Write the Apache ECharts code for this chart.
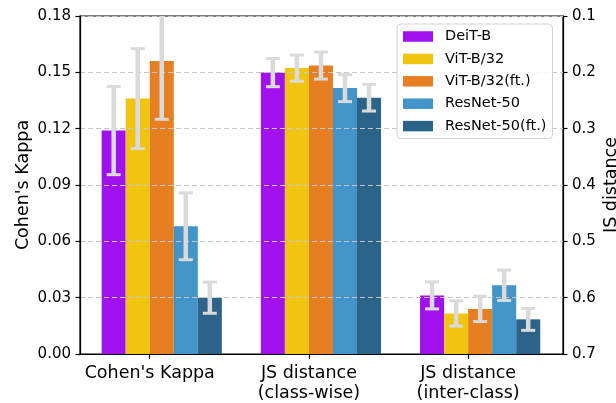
<!DOCTYPE html>
<html>
<head>
<meta charset="utf-8">
<script src="https://cdn.jsdelivr.net/npm/echarts@6/dist/echarts.min.js"></script>
<style>
  html, body { margin: 0; padding: 0; background: #fff; }
  #chart { width: 616px; height: 403px; }
</style>
</head>
<body>
<div id="chart"></div>
<script>
// Groups along the x axis and the five compared models
const categories = ["Cohen's Kappa", 'JS distance\n(class-wise)', 'JS distance\n(inter-class)'];
const models = ['DeiT-B', 'ViT-B/32', 'ViT-B/32(ft.)', 'ResNet-50', 'ResNet-50(ft.)'];

// Cohen's Kappa (left axis), mean and error
const kappa    = [0.119, 0.136, 0.156, 0.068, 0.030];
const kappaErr = [0.0235, 0.0266, 0.031, 0.0178, 0.0083];

// JS distance (right axis, inverted), mean and error
const jsClassWise    = [0.2005, 0.1925, 0.188, 0.228, 0.245];
const jsClassWiseErr = [0.025, 0.0233, 0.024, 0.024, 0.0237];
const jsInterClass    = [0.596, 0.628, 0.620, 0.578, 0.6385];
const jsInterClassErr = [0.024, 0.0224, 0.0225, 0.027, 0.0195];

// Axis ranges
const kappaAxis = { min: 0, max: 0.18, interval: 0.03 };
const jsAxis = { min: 0.1, max: 0.7, interval: 0.1 };

const colors = ['#a111ef', '#f1c40f', '#e67e22', '#4394c9', '#2b6389'];
const FONT = 'DejaVu Sans';
const BAR_W = 0.151;          // bar width in x-axis units
const ERR_COLOR = '#dadada';

function barSeries(i, yAxisIndex, points, base) {
  return {
    type: 'custom',
    name: models[i],
    xAxisIndex: 0,
    yAxisIndex: yAxisIndex,
    clip: true,
    z: 2,
    itemStyle: { color: colors[i] },
    encode: { x: 0, y: 1 },
    data: points,
    silent: true,
    renderItem: function (params, api) {
      const x = api.value(0), v = api.value(1);
      const a = api.coord([x + (i - 2) * BAR_W, v]);
      const b = api.coord([x + (i - 1) * BAR_W, base]);
      return {
        type: 'rect',
        shape: { x: a[0], y: Math.min(a[1], b[1]), width: b[0] - a[0], height: Math.abs(b[1] - a[1]) },
        style: { fill: colors[i] }
      };
    }
  };
}

function errSeries(i, yAxisIndex, points) {
  return {
    type: 'custom',
    name: 'err ' + models[i] + ' ' + yAxisIndex,
    xAxisIndex: 0,
    yAxisIndex: yAxisIndex,
    clip: true,
    z: 4,
    encode: { x: 0, y: 1 },
    data: points,
    silent: true,
    renderItem: function (params, api) {
      const x = api.value(0), v = api.value(1), e = api.value(2);
      const xc = x + (i - 1.5) * BAR_W;
      const hi = api.coord([xc, v + e]);
      const lo = api.coord([xc, v - e]);
      const cap = 7;
      return {
        type: 'group',
        children: [
          { type: 'line', shape: { x1: hi[0], y1: hi[1], x2: lo[0], y2: lo[1] },
            style: { stroke: ERR_COLOR, lineWidth: 4.5 } },
          { type: 'line', shape: { x1: hi[0] - cap, y1: hi[1], x2: hi[0] + cap, y2: hi[1] },
            style: { stroke: ERR_COLOR, lineWidth: 3 } },
          { type: 'line', shape: { x1: lo[0] - cap, y1: lo[1], x2: lo[0] + cap, y2: lo[1] },
            style: { stroke: ERR_COLOR, lineWidth: 3 } }
        ]
      };
    }
  };
}

const series = [];
models.forEach(function (m, i) {
  series.push(barSeries(i, 0, [[0, kappa[i]]], kappaAxis.min));
  series.push(barSeries(i, 1, [[1, jsClassWise[i]], [2, jsInterClass[i]]], jsAxis.max));
});
models.forEach(function (m, i) {
  series.push(errSeries(i, 0, [[0, kappa[i], kappaErr[i]]]));
  series.push(errSeries(i, 1, [[1, jsClassWise[i], jsClassWiseErr[i]], [2, jsInterClass[i], jsInterClassErr[i]]]));
});

const axisLineStyle = { color: '#000', width: 1.2 };

const option = {
  animation: false,
  backgroundColor: '#fff',
  textStyle: { fontFamily: FONT },
  grid: {
    left: 80, right: 53, top: 16, bottom: 49,
    containLabel: false, outerBoundsMode: 'none',
    show: true, borderColor: '#000', borderWidth: 1.2
  },
  legend: {
    data: models,
    orient: 'vertical',
    left: 397,
    top: 24,
    z: 5,
    padding: [5, 6, 5, 6],
    itemWidth: 30,
    itemHeight: 10.5,
    itemGap: 7.4,
    icon: 'rect',
    backgroundColor: 'rgba(255,255,255,0.85)',
    borderColor: '#d3d3d3',
    borderWidth: 1,
    borderRadius: 4,
    textStyle: { fontFamily: FONT, fontSize: 14.5, color: '#000', padding: [0, 0, 0, 7] }
  },
  xAxis: {
    type: 'value',
    min: -0.438,
    max: 2.596,
    z: 3,
    axisLine: { show: true, onZero: false, lineStyle: axisLineStyle },
    axisTick: { show: true, customValues: [0, 1, 2], length: 5, lineStyle: axisLineStyle },
    axisLabel: {
      customValues: [0, 1, 2],
      formatter: function (v) { return categories[Math.round(v)]; },
      fontFamily: FONT, fontSize: 17.5, lineHeight: 19.5, color: '#000', margin: 10
    },
    splitLine: { show: false }
  },
  yAxis: [
    {
      type: 'value',
      position: 'left',
      min: kappaAxis.min, max: kappaAxis.max, interval: kappaAxis.interval,
      z: 3,
      name: "Cohen's Kappa",
      nameLocation: 'middle',
      nameGap: 48,
      nameMoveOverlap: false,
      nameTextStyle: { fontFamily: FONT, fontSize: 17.5, color: '#000' },
      axisLine: { show: true, onZero: false, lineStyle: axisLineStyle },
      axisTick: { show: true, length: 4.5, lineStyle: axisLineStyle },
      axisLabel: { fontFamily: FONT, fontSize: 15, color: '#000', margin: 9,
                   formatter: function (v) { return v.toFixed(2); } },
      splitLine: { show: true, lineStyle: { color: '#c6c6c6', type: [5, 3], width: 1 } }
    },
    {
      type: 'value',
      position: 'right',
      inverse: true,
      min: jsAxis.min, max: jsAxis.max, interval: jsAxis.interval,
      z: 3,
      name: 'JS distance',
      nameLocation: 'middle',
      nameGap: 39,
      nameRotate: 90,
      nameMoveOverlap: false,
      nameTextStyle: { fontFamily: FONT, fontSize: 17.5, color: '#000' },
      axisLine: { show: true, onZero: false, lineStyle: axisLineStyle },
      axisTick: { show: true, length: 4.5, lineStyle: axisLineStyle },
      axisLabel: { fontFamily: FONT, fontSize: 15, color: '#000', margin: 9,
                   formatter: function (v) { return v.toFixed(1); } },
      splitLine: { show: false }
    }
  ],
  series: series
};

const chart = echarts.init(document.getElementById('chart'), null, { renderer: 'canvas' });
chart.setOption(option);
</script>
</body>
</html>
